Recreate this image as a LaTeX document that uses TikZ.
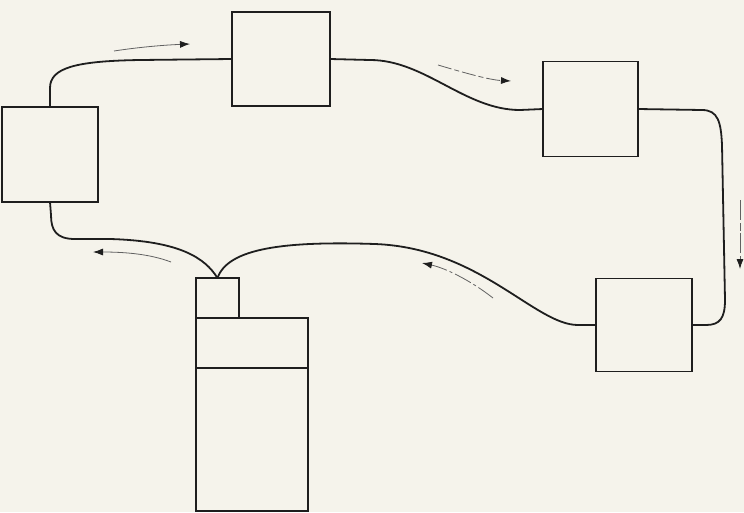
\documentclass[tikz,border=0pt]{standalone}
\usetikzlibrary{arrows.meta}
\definecolor{paper}{HTML}{F5F3EB}
\definecolor{ink}{HTML}{1E1E1E}
\tikzset{
  unitbox/.style={draw=ink, line width=1.3pt, fill=none, inner sep=0pt, outer sep=0pt},
  pipe/.style={draw=ink, line width=1.8pt},
  flow/.style={draw=ink!70, line width=0.8pt, -{Latex[length=10pt,width=7pt,color=ink]}},
}
\begin{document}
\begin{tikzpicture}[x=1pt, y=-1pt]
  % paper
  \fill[paper] (0,0) rectangle (744,512);
  \useasboundingbox (0,0) rectangle (744,512);

  % units around the loop
  \node[unitbox, minimum width=96pt, minimum height=95pt] (A) at (50,154.5) {};
  \node[unitbox, minimum width=98pt, minimum height=94pt] (B) at (281,59) {};
  \node[unitbox, minimum width=95pt, minimum height=95pt] (C) at (590.5,109) {};
  \node[unitbox, minimum width=96pt, minimum height=93pt] (D) at (644,325) {};

  % cylinder: cap and body
  \node[unitbox, minimum width=43pt, minimum height=40pt] (cap) at (217.5,298) {};
  \node[unitbox, minimum width=112pt, minimum height=193pt] (body) at (252,414.5) {};
  \coordinate (sepL) at (196,368);
  \coordinate (sepR) at (308,368);
  \draw[ink, line width=1.3pt] (sepL) -- (sepR);

  % connecting lines
  \draw[pipe] (A.north) -- (50,88) .. controls (50,68) and (75,61) .. (140,60) -- (B.west);
  \draw[pipe] (B.east) -- (370,60) .. controls (425,60) and (465,110) .. (520,110) -- (C.west);
  \draw[pipe] (C.east) -- (702,110) .. controls (718,110) and (721,122) .. (722,145)
              -- (725,300) .. controls (725,318) and (720,325) .. (706,325) -- (D.east);
  \draw[pipe] (D.west) -- (578,325) .. controls (535,325) and (480,248) .. (375,244)
              .. controls (285,241) and (228,248) .. (cap.north);
  \draw[pipe] (cap.north) .. controls (205,258) and (180,241) .. (110,239) -- (75,239)
              .. controls (56,239) and (51,230) .. (51,215) -- (A.south);

  % direction of flow
  \coordinate (f1s) at (114,51);  \coordinate (f1e) at (190,44);
  \coordinate (f2s) at (438,65);  \coordinate (f2e) at (511,81);
  \coordinate (f3s) at (740,200); \coordinate (f3e) at (740,269);
  \coordinate (f4s) at (493,298); \coordinate (f4e) at (422,263);
  \coordinate (f5s) at (171,262); \coordinate (f5e) at (93,252);
  \draw[flow] (f1s) .. controls (140,47) and (165,45) .. (f1e);
  \draw[flow, dash pattern=on 14pt off 3pt on 5pt off 3pt] (f2s) .. controls (465,73) and (490,80) .. (f2e);
  \draw[flow, dash pattern=on 20pt off 3pt on 8pt off 2pt] (f3s) -- (f3e);
  \draw[flow, dash pattern=on 18pt off 3pt on 3pt off 3pt] (f4s) .. controls (470,280) and (445,268) .. (f4e);
  \draw[flow] (f5s) .. controls (150,254) and (125,252) .. (f5e);
\end{tikzpicture}
\end{document}
